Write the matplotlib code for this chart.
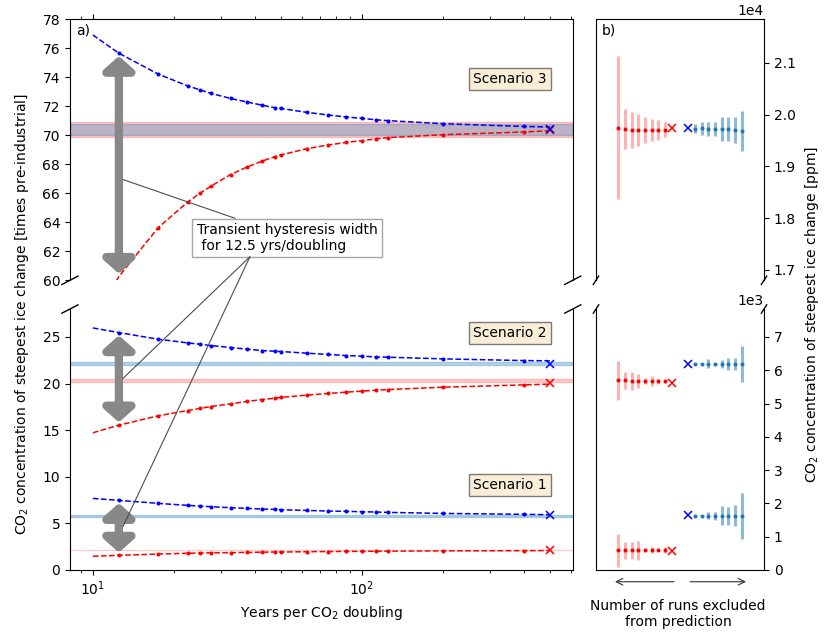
import matplotlib
matplotlib.use('Agg')
import matplotlib.pyplot as plt
from matplotlib.colors import to_rgba

# ---------------- data ----------------
# years per CO2 doubling of the simulated runs (dots)
x_runs = [12.5, 17.5, 22.5, 25, 27.5, 32.5, 37.5, 42.5, 47.5, 50, 62.5, 75,
          87.5, 100, 112.5, 125, 200, 400]
# fitted curve sampled at 10, the run positions and 500
x_fit = [10] + x_runs + [500]
x_eq = 500  # position of the equilibrium estimate (X)

# Scenario 3 (times pre-industrial)
s3_blue_fit = [76.92, 75.66, 74.22, 73.41, 73.14, 72.89, 72.54, 72.29, 72.08, 71.90,
               71.85, 71.58, 71.40, 71.26, 71.17, 71.07, 71.01, 70.80, 70.61, 70.57]
s3_blue_run = s3_blue_fit[1:-1]
s3_red_fit = [57.0, 60.26, 63.63, 65.39, 66.00, 66.49, 67.29, 67.82, 68.21, 68.53,
              68.64, 69.08, 69.33, 69.51, 69.63, 69.75, 69.84, 70.04, 70.23, 70.32]
s3_red_run = [60.87] + s3_red_fit[2:-1]
s3_eq_red, s3_eq_blue = 70.38, 70.46
s3_band_red, s3_band_blue = (69.86, 70.92), (70.04, 70.75)

# Scenario 2
s2_blue_fit = [25.97, 25.47, 24.76, 24.37, 24.22, 24.08, 23.87, 23.69, 23.54, 23.47,
               23.44, 23.26, 23.12, 23.01, 22.94, 22.86, 22.83, 22.65, 22.47, 22.44]
s2_blue_run = s2_blue_fit[1:-1]
s2_red_fit = [14.72, 15.54, 16.54, 17.11, 17.33, 17.54, 17.83, 18.08, 18.29, 18.43,
              18.51, 18.76, 18.94, 19.08, 19.19, 19.29, 19.36, 19.61, 19.86, 19.94]
s2_red_run = s2_red_fit[1:-1]
s2_eq_red, s2_eq_blue = 20.11, 22.08
s2_band_red, s2_band_blue = (20.12, 20.44), (22.00, 22.33)

# Scenario 1
s1_blue_fit = [7.68, 7.47, 7.15, 6.93, 6.86, 6.79, 6.68, 6.61, 6.54, 6.50,
               6.46, 6.39, 6.32, 6.29, 6.25, 6.22, 6.18, 6.07, 5.97, 5.93]
s1_blue_run = s1_blue_fit[1:-1]
s1_red_fit = [1.47, 1.57, 1.71, 1.79, 1.82, 1.84, 1.86, 1.89, 1.91, 1.93,
              1.93, 1.96, 1.98, 2.00, 2.00, 2.01, 2.02, 2.05, 2.07, 2.09]
s1_red_run = s1_red_fit[1:-1]
s1_eq_red, s1_eq_blue = 2.11, 5.86
s1_band_red, s1_band_blue = (2.10, 2.12), (5.64, 5.89)

# Panel b: number of runs excluded (1..8), ppm
n_excluded = [1, 2, 3, 4, 5, 6, 7, 8]
s3_red_mean = [19710, 19706, 19700, 19700, 19706, 19710, 19722, 19745]
s3_red_err = [142, 197, 217, 248, 313, 348, 394, 1383]
s3_blue_mean = [19730, 19733, 19727, 19727, 19720, 19716, 19707, 19685]
s3_blue_err = [91, 133, 138, 138, 228, 232, 255, 387]
s3_eq_ppm_red, s3_eq_ppm_blue = 19740, 19740

s2_red_mean = [5670, 5675, 5680, 5675, 5680, 5685, 5695, 5700]
s2_red_err = [50, 75, 160, 95, 200, 275, 255, 580]
s2_blue_mean = [6200, 6200, 6200, 6200, 6200, 6200, 6195, 6185]
s2_blue_err = [15, 15, 130, 20, 120, 180, 185, 535]
s2_eq_ppm_red, s2_eq_ppm_blue = 5630, 6180

s1_red_mean = [590, 590, 590, 590, 590, 590, 590, 590]
s1_red_err = [90, 20, 90, 20, 290, 260, 250, 490]
s1_blue_mean = [1630, 1630, 1630, 1630, 1630, 1630, 1630, 1615]
s1_blue_err = [15, 15, 105, 120, 285, 265, 315, 685]
s1_eq_ppm_red, s1_eq_ppm_blue = 580, 1640

# ---------------- figure ----------------
fig = plt.figure(figsize=(8.31, 6.37), dpi=100)
L, W = 0.0842, 0.605
RL, RW = 0.7172, 0.2022
YT, YB, H = 0.560, 0.1052, 0.4097
axT = fig.add_axes([L, YT, W, H])
axB = fig.add_axes([L, YB, W, H], sharex=axT)
rT = fig.add_axes([RL, YT, RW, H])
rB = fig.add_axes([RL, YB, RW, H], sharex=rT)

axT.set_xscale('log')

def draw_scen(ax, bfit, brun, rfit, rrun, eqr, eqb, bandr, bandb):
    ax.axhspan(*bandr, color='r', alpha=0.2)
    ax.axhspan(*bandb, color='tab:blue', alpha=0.3)
    ax.plot(x_fit, bfit, '--', color='b', lw=1.1)
    ax.plot(x_fit, rfit, '--', color='r', lw=1.1)
    ax.plot(x_runs, brun, '.', color='b', ms=3.8)
    ax.plot(x_runs, rrun, '.', color='r', ms=3.8)
    ax.plot([x_eq], [eqr], 'x', color='r', ms=5.5, mew=1.1)
    ax.plot([x_eq], [eqb], 'x', color='b', ms=5.5, mew=1.1)

draw_scen(axT, s3_blue_fit, s3_blue_run, s3_red_fit, s3_red_run,
          s3_eq_red, s3_eq_blue, s3_band_red, s3_band_blue)
draw_scen(axB, s2_blue_fit, s2_blue_run, s2_red_fit, s2_red_run,
          s2_eq_red, s2_eq_blue, s2_band_red, s2_band_blue)
draw_scen(axB, s1_blue_fit, s1_blue_run, s1_red_fit, s1_red_run,
          s1_eq_red, s1_eq_blue, s1_band_red, s1_band_blue)

axT.set_ylim(60, 78)
axB.set_ylim(0, 28)
axT.set_yticks(range(60, 79, 2))
axB.set_yticks(range(0, 26, 5))

axT.spines['bottom'].set_visible(False)
axB.spines['top'].set_visible(False)
axT.xaxis.tick_top()
axT.tick_params(labeltop=False)
axB.xaxis.tick_bottom()
axB.set_xlabel('Years per CO$_2$ doubling', fontsize=10)

# hysteresis arrows
arrow_kw = dict(arrowstyle='<|-|>,head_width=0.9,head_length=0.8',
                color='#888888', lw=6, mutation_scale=10, shrinkA=2, shrinkB=2)
axT.annotate('', xy=(x_fit[1], s3_blue_fit[1]), xytext=(x_fit[1], s3_red_fit[1]),
             arrowprops=arrow_kw, zorder=5)
axB.annotate('', xy=(x_fit[1], s2_blue_fit[1]), xytext=(x_fit[1], s2_red_fit[1]),
             arrowprops=arrow_kw, zorder=5)
axB.annotate('', xy=(x_fit[1], s1_blue_fit[1]), xytext=(x_fit[1], s1_red_fit[1]),
             arrowprops=arrow_kw, zorder=5)

line_kw = dict(arrowstyle='-', color='0.3', lw=0.8, shrinkA=0, shrinkB=0)
axT.annotate('Transient hysteresis width\n for 12.5 yrs/doubling',
             xy=(12.94, 66.95), xycoords='data',
             xytext=(0.252, 0.1615), textcoords='axes fraction',
             ha='left', va='center', fontsize=10, zorder=6,
             bbox=dict(boxstyle='square,pad=0.3', fc='white', ec='0.65'),
             arrowprops=dict(relpos=(0.288, 1.0), **line_kw))
for yv in (20.55, 4.64):
    axB.annotate('', xy=(12.94, yv), xycoords='data',
                 xytext=(0.358, 0.0904), textcoords=axT.transAxes,
                 arrowprops=line_kw, zorder=6)

box_kw = dict(boxstyle='square', facecolor='wheat', alpha=0.5)
axT.text(0.875, 0.771, 'Scenario 3', transform=axT.transAxes, ha='center',
         va='center', fontsize=10, bbox=box_kw)
axB.text(0.875, 0.908, 'Scenario 2', transform=axB.transAxes, ha='center',
         va='center', fontsize=10, bbox=box_kw)
axB.text(0.875, 0.325, 'Scenario 1', transform=axB.transAxes, ha='center',
         va='center', fontsize=10, bbox=box_kw)
axT.text(0.012, 0.985, 'a)', transform=axT.transAxes, ha='left', va='top', fontsize=10)

# ---------------- panel b ----------------
red_pos = [-(1.25 + k) for k in n_excluded]
blue_pos = [1.25 + k for k in n_excluded]
red_ecol = to_rgba('r', 0.3)
blue_ecol = to_rgba('tab:blue', 0.5)

def draw_b(ax, rm, re, bm, be, eqr, eqb):
    ax.errorbar(red_pos, rm, yerr=re, fmt='.', color='r', ecolor=red_ecol,
                elinewidth=2.2, ms=3.8, capsize=0)
    ax.errorbar(blue_pos, bm, yerr=be, fmt='.', color='tab:blue', ecolor=blue_ecol,
                elinewidth=2.2, ms=3.8, capsize=0)
    ax.plot([-1.25], [eqr], 'x', color='r', ms=5.5, mew=1.1)
    ax.plot([1.25], [eqb], 'x', color='b', ms=5.5, mew=1.1)

draw_b(rT, s3_red_mean, s3_red_err, s3_blue_mean, s3_blue_err, s3_eq_ppm_red, s3_eq_ppm_blue)
draw_b(rB, s2_red_mean, s2_red_err, s2_blue_mean, s2_blue_err, s2_eq_ppm_red, s2_eq_ppm_blue)
draw_b(rB, s1_red_mean, s1_red_err, s1_blue_mean, s1_blue_err, s1_eq_ppm_red, s1_eq_ppm_blue)

rT.set_xlim(-12.6, 12.6)
rT.set_ylim(60 * 280, 78 * 280)
rB.set_ylim(0, 28 * 280)
for ax in (rT, rB):
    ax.yaxis.tick_right()
    ax.set_xticks([])
    ax.ticklabel_format(axis='y', style='sci', scilimits=(0, 0))
rT.spines['bottom'].set_visible(False)
rB.spines['top'].set_visible(False)
rT.text(0.034, 0.985, 'b)', transform=rT.transAxes, ha='left', va='top', fontsize=10)

arr_kw = dict(arrowstyle='->', color='0.2', lw=0.8, shrinkA=0, shrinkB=0, mutation_scale=12)
rB.annotate('', xy=(0.113, -0.045), xytext=(0.464, -0.045), xycoords='axes fraction',
            arrowprops=arr_kw, annotation_clip=False)
rB.annotate('', xy=(0.893, -0.045), xytext=(0.56, -0.045), xycoords='axes fraction',
            arrowprops=arr_kw, annotation_clip=False)
rB.text(0.488, -0.169, 'Number of runs excluded\nfrom prediction', transform=rB.transAxes,
        ha='center', va='center', multialignment='center', fontsize=10)

# broken-axis marks
d = 0.016
for top, bot in ((axT, axB), (rT, rB)):
    kw = dict(transform=top.transAxes, color='k', clip_on=False, lw=1)
    top.plot((-d, d), (-d, d), **kw)
    top.plot((1 - d, 1 + d), (-d, d), **kw)
    kw = dict(transform=bot.transAxes, color='k', clip_on=False, lw=1)
    bot.plot((-d, d), (1 - d, 1 + d), **kw)
    bot.plot((1 - d, 1 + d), (1 - d, 1 + d), **kw)

fig.text(22 / 831, 0.507, 'CO$_2$ concentration of steepest ice change [times pre-industrial]',
         rotation=90, ha='center', va='center', fontsize=10)
fig.text(812 / 831, 0.507, 'CO$_2$ concentration of steepest ice change [ppm]',
         rotation=90, ha='center', va='center', fontsize=10)

fig.savefig('out.png', dpi=100)
